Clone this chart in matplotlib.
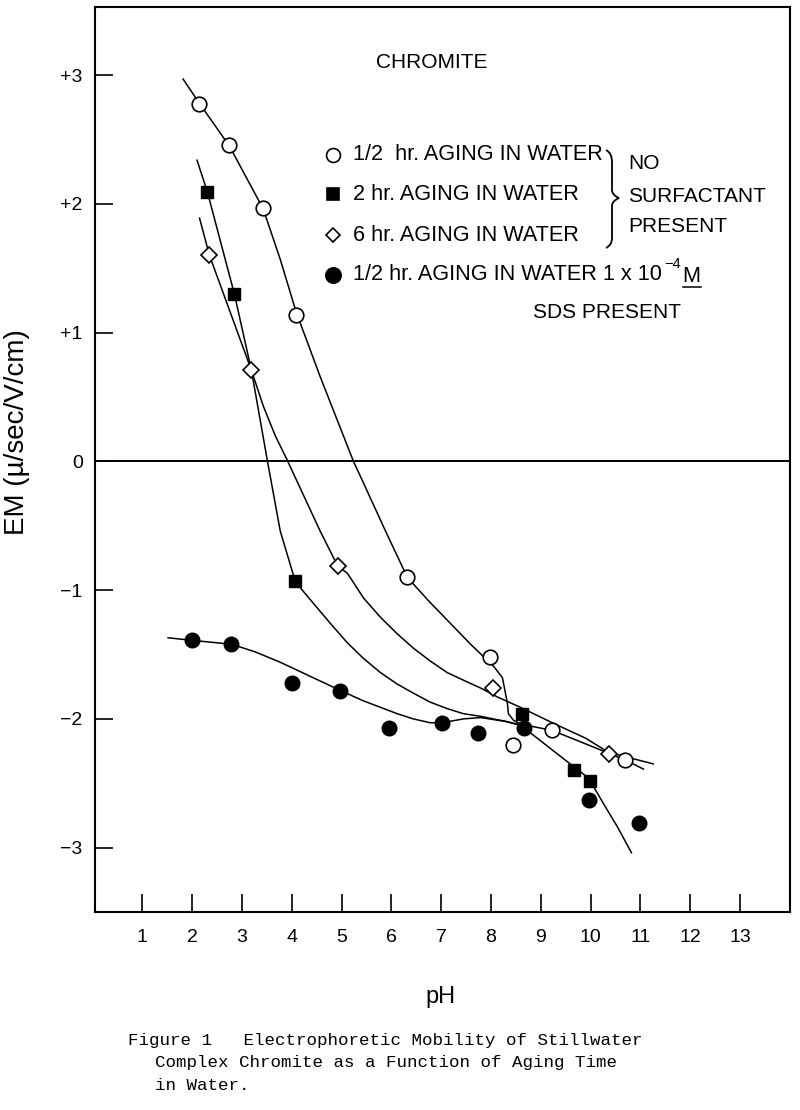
import numpy as np
import matplotlib
matplotlib.use('Agg')
from matplotlib import pyplot as plt
from matplotlib.path import Path
from matplotlib.patches import PathPatch

plt.rcParams['axes.unicode_minus'] = False
SANS = ['Liberation Sans', 'DejaVu Sans']
MONO = ['Liberation Mono', 'DejaVu Sans Mono']

# 측정점 (pH, EM)
half_x = [2.14, 2.75, 3.43, 4.09, 6.32, 7.99, 8.45, 9.23, 10.70]
half_y = [2.78, 2.46, 1.97, 1.14, -0.90, -1.52, -2.20, -2.09, -2.32]
two_x = [2.31, 2.85, 4.07, 8.63, 9.67, 9.98]
two_y = [2.09, 1.30, -0.93, -1.96, -2.40, -2.48]
six_x = [2.35, 3.19, 4.92, 8.05, 10.36]
six_y = [1.60, 0.71, -0.81, -1.76, -2.27]
sds_x = [2.00, 2.79, 4.01, 4.96, 5.96, 7.02, 7.73, 8.67, 9.96, 10.98]
sds_y = [-1.39, -1.42, -1.72, -1.78, -2.07, -2.03, -2.11, -2.07, -2.63, -2.81]

# 손으로 그린 곡선
half_cx = [1.82, 2.15, 2.75, 3.43, 3.77, 4.09, 4.57, 5.24, 5.42, 5.87, 6.32, 6.74, 7.59,
           8.05, 8.23, 8.29, 8.33, 8.35, 8.45, 8.59, 9.23, 10.00, 10.70, 11.06]
half_cy = [2.97, 2.78, 2.45, 1.96, 1.57, 1.16, 0.66, 0.0, -0.15, -0.53, -0.90, -1.08, -1.42,
           -1.59, -1.68, -1.80, -1.88, -1.96, -2.01, -2.04, -2.09, -2.21, -2.32, -2.39]
two_cx = [2.10, 2.31, 2.85, 3.19, 3.51, 3.77, 4.07, 4.17, 4.43, 4.78, 5.12, 5.44,
          5.78, 6.12, 6.44, 6.78, 7.12, 7.45, 7.79, 8.30, 8.65, 8.73, 9.59, 9.96, 10.26,
          10.54, 10.82]
two_cy = [2.34, 2.09, 1.30, 0.71, 0.01, -0.54, -0.93, -0.98, -1.10, -1.26, -1.41,
          -1.53, -1.64, -1.73, -1.80, -1.87, -1.92, -1.96, -1.98, -2.02, -2.05, -2.09,
          -2.35, -2.46, -2.66, -2.84, -3.04]
six_cx = [2.15, 2.35, 3.19, 3.43, 3.67, 3.91, 4.57, 4.92, 5.12, 5.44, 5.78, 6.12, 6.44,
          6.78, 7.12, 7.45, 7.79, 8.13, 8.59, 9.23, 9.90, 10.36, 11.26]
six_cy = [1.89, 1.60, 0.71, 0.43, 0.20, 0.01, -0.54, -0.81, -0.87, -1.06, -1.21, -1.34,
          -1.45, -1.55, -1.64, -1.70, -1.76, -1.83, -1.91, -2.03, -2.15, -2.26, -2.35]
sds_cx = [1.52, 2.00, 2.79, 3.27, 3.77, 4.43, 4.98, 5.44, 5.78, 6.12, 6.44, 6.78, 7.02,
          7.45, 7.79, 8.30, 8.67]
sds_cy = [-1.37, -1.39, -1.42, -1.48, -1.56, -1.68, -1.78, -1.86, -1.91, -1.96, -2.00,
          -2.03, -2.03, -2.00, -1.99, -2.02, -2.06]

xticks = list(range(1, 14))
yticks = [3, 2, 1, 0, -1, -2, -3]
ytick_labels = ['+3', '+2', '+1', '0', '\u22121', '\u22122', '\u22123']

fig = plt.figure(figsize=(8, 11.1), dpi=100)
ax = fig.add_axes([0.119, 0.1784, 0.869, 0.8153])

lw = 1.1
ax.plot(half_cx, half_cy, color='k', lw=lw)
ax.plot(two_cx, two_cy, color='k', lw=lw)
ax.plot(six_cx, six_cy, color='k', lw=lw)
ax.plot(sds_cx, sds_cy, color='k', lw=lw)
ax.axhline(0, color='k', lw=1.4)

ax.plot(half_x, half_y, 'o', ms=10.5, mfc='white', mec='k', mew=1.2, ls='none', zorder=3)
ax.plot(two_x, two_y, 's', ms=8.5, mfc='k', mec='k', ls='none', zorder=3)
ax.plot(six_x, six_y, 'D', ms=8, mfc='white', mec='k', mew=1.2, ls='none', zorder=3)
ax.plot(sds_x, sds_y, 'o', ms=10.5, mfc='k', mec='k', ls='none', zorder=3)

ax.set_xlim(0.056, 14.01)
ax.set_ylim(-3.50, 3.53)
ax.set_xticks(xticks)
ax.set_xticklabels([str(v) for v in xticks], family=SANS, fontsize=14)
ax.set_yticks(yticks)
ax.set_yticklabels(ytick_labels, family=SANS, fontsize=14)
ax.tick_params(axis='x', direction='in', length=13, width=1.2, pad=12, top=False)
ax.tick_params(axis='y', direction='in', length=13, width=1.2, pad=9, right=False)
for s in ax.spines.values():
    s.set_linewidth(1.5)

def fx(px):
    return px / 800.0

def fy(py):
    return 1 - py / 1110.0

# 제목 / 범례 텍스트
ft = 15
fig.text(fx(432), fy(62), 'CHROMITE', family=SANS, fontsize=ft, ha='center', va='center')

legend_rows = [
    ('o', 'white', 10, 155, '1/2  hr. AGING IN WATER'),
    ('s', 'k', 8, 194, '2 hr. AGING IN WATER'),
    ('D', 'white', 7.5, 235, '6 hr. AGING IN WATER'),
    ('o', 'k', 11, 275, '1/2 hr. AGING IN WATER 1 x 10'),
]
last = None
for mk, fc, ms, py, label in legend_rows:
    fig.add_artist(plt.Line2D([fx(333)], [fy(py)], marker=mk, ms=ms, mfc=fc, mec='k',
                              mew=1.2, ls='none', transform=fig.transFigure))
    last = fig.text(fx(353), fy(py), label, family=SANS, fontsize=15.6, ha='left', va='center')

# 10^-4 M 위치는 앞 글자 끝에서 이어 붙임
fig.canvas.draw()
r = fig.canvas.get_renderer()
end_px = last.get_window_extent(r).x1
sup = fig.text((end_px + 2) / 800.0, fy(264), '\u22124', family=SANS, fontsize=10.5,
               ha='left', va='center')
fig.canvas.draw()
m_px = sup.get_window_extent(r).x1 + 2
mt = fig.text(m_px / 800.0, fy(277), 'M', family=SANS, fontsize=15.6, ha='left', va='center')
fig.canvas.draw()
me = mt.get_window_extent(r)
fig.add_artist(plt.Line2D([me.x0 / 800.0, me.x1 / 800.0], [fy(287), fy(287)], color='k',
                          lw=1.1, transform=fig.transFigure))
fig.text(fx(533), fy(312), 'SDS PRESENT', family=SANS, fontsize=ft, ha='left', va='center')

fig.text(fx(628), fy(163), 'NO', family=SANS, fontsize=ft, ha='left', va='center')
fig.text(fx(628), fy(196), 'SURFACTANT', family=SANS, fontsize=ft, ha='left', va='center')
fig.text(fx(628), fy(227), 'PRESENT', family=SANS, fontsize=ft, ha='left', va='center')

# 중괄호
bx = [606, 612, 612, 612, 612, 619, 612, 612, 612, 612, 606]
by = [150, 153, 162, 190, 195, 198, 201, 206, 238, 245, 248]
codes = [Path.MOVETO, Path.CURVE3, Path.CURVE3, Path.LINETO, Path.CURVE3, Path.CURVE3,
         Path.CURVE3, Path.CURVE3, Path.LINETO, Path.CURVE3, Path.CURVE3]
brace = Path([(fx(a), fy(b)) for a, b in zip(bx, by)], codes)
fig.add_artist(PathPatch(brace, fc='none', ec='k', lw=1.3, transform=fig.transFigure))

fig.text(fx(17), fy(432), 'EM (\u00b5/sec/V/cm)', family=SANS, fontsize=20, rotation=90,
         ha='center', va='center')
fig.text(fx(440), fy(997), 'pH', family=SANS, fontsize=17, ha='center', va='center')

fig.text(fx(128), fy(1040), 'Figure 1   Electrophoretic Mobility of Stillwater',
         family=MONO, fontsize=12.6, ha='left', va='center')
fig.text(fx(155), fy(1062), 'Complex Chromite as a Function of Aging Time',
         family=MONO, fontsize=12.6, ha='left', va='center')
fig.text(fx(155), fy(1085), 'in Water.', family=MONO, fontsize=12.6, ha='left', va='center')

fig.savefig('out.png', dpi=100)
